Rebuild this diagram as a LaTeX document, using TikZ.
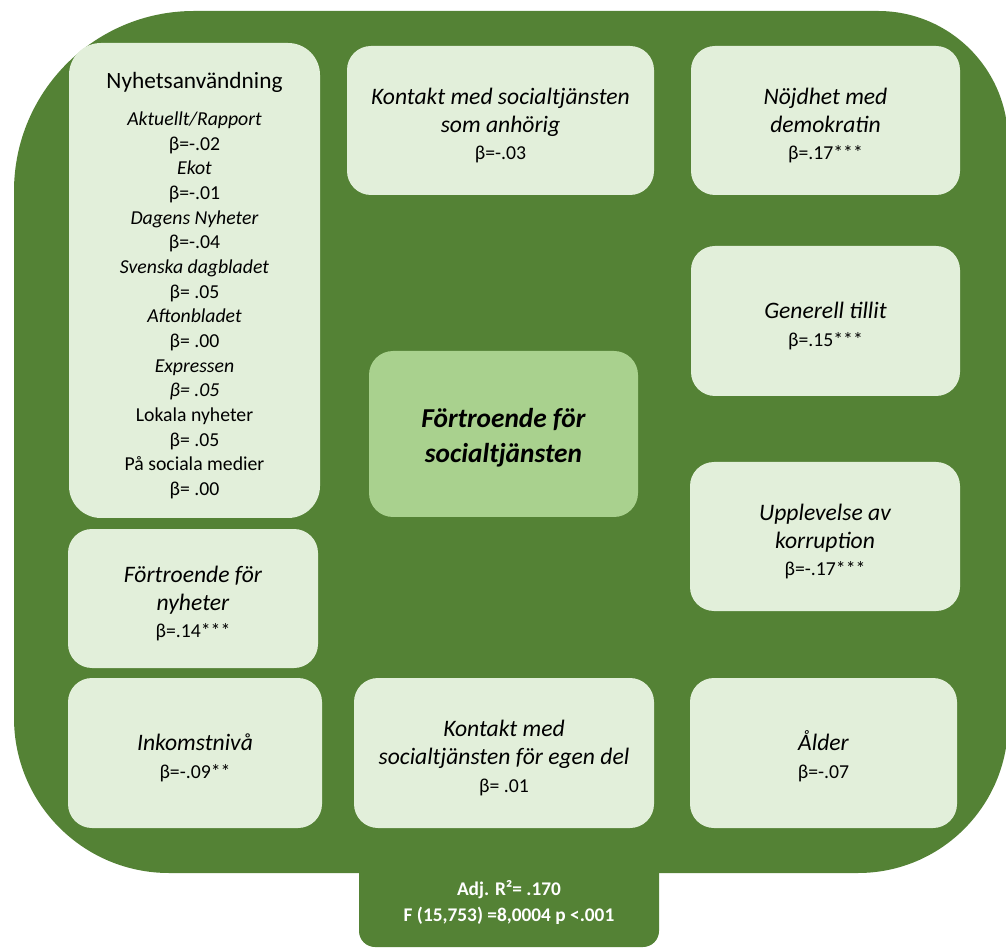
\documentclass[tikz,border=0pt]{standalone}
\usepackage{fontspec}
\setmainfont{Carlito}
\usepackage{tikz}
\usepackage{color}
\definecolor{darkgreen}{HTML}{548235}
\definecolor{lightgreen}{HTML}{E2EFDA}
\definecolor{midgreen}{HTML}{A9D18E}
\newcommand{\topline}{\rule{0pt}{20pt}}

\begin{document}
\begin{tikzpicture}[x=0.75pt,y=0.75pt,var node/.style={rectangle,rounded corners=18pt,fill=lightgreen,align=center,inner sep=2pt,font=\fontsize{17.7}{20.8}\selectfont\itshape}]
    \useasboundingbox (0,0) rectangle (1006,947);
    \fill[darkgreen] (14,229) -- (14,756) arc[start angle=180,end angle=90,radius=180] -- (878,936) arc[start angle=90,end angle=0,radius=130] -- (1008,224) arc[start angle=0,end angle=-90,radius=150] -- (169,74) arc[start angle=270,end angle=180,radius=155] -- cycle;
    \fill[darkgreen,rounded corners=12pt] (359,90) -- (359,0) -- (659,0) -- (659,90);
    \node[var node, rounded corners=24pt, minimum width=188.25pt, minimum height=356.25pt, font=\fontsize{14.8}{18.5}\selectfont] (A) at (194.5,666.5) {\topline{\fontsize{17.5}{22}\selectfont Nyhetsanvändning}\\[9pt]
        \textit{Aktuellt/Rapport}\\ β=-.02\\ \textit{Ekot}\\ β=-.01\\ \textit{Dagens Nyheter}\\ β=-.04\\ \textit{Svenska dagbladet}\\ β= .05\\ \textit{Aftonbladet}\\ β= .00\\ \textit{Expressen}\\ \textit{β= .05}\\ Lokala nyheter\\ β= .05\\ På sociala medier\\ β= .00};
    \node[var node, minimum width=230.25pt, minimum height=111.75pt] (B) at (500.5,826.5) {\topline Kontakt med socialtjänsten\\ som anhörig\\ {\upshape\fontsize{14.8}{16}\selectfont β=-.03}};
    \node[var node, minimum width=201.75pt, minimum height=111.75pt] (C) at (825.5,826.5) {\topline Nöjdhet med\\ demokratin\\ {\upshape\fontsize{14.8}{16}\selectfont β=.17***}};
    \node[var node, minimum width=201.75pt, minimum height=112.5pt] (D) at (825.5,626) {\topline Generell tillit\\ {\upshape\fontsize{14.8}{16}\selectfont β=.15***}};
    \node[var node, fill=midgreen, minimum width=201.75pt, minimum height=124.5pt, font=\fontsize{20.5}{26}\selectfont\bfseries\itshape] (E) at (503.5,513) {\topline Förtroende för\\ socialtjänsten};
    \node[var node, minimum width=202.5pt, minimum height=111.75pt] (F) at (825,410.5) {\topline Upplevelse av\\ korruption\\ {\upshape\fontsize{14.8}{16}\selectfont β=-.17***}};
    \node[var node, minimum width=187.5pt, minimum height=104.25pt] (G) at (193,348.5) {\topline Förtroende för\\ nyheter\\ {\upshape\fontsize{14.8}{16}\selectfont β=.14***}};
    \node[var node, minimum width=190.5pt, minimum height=112.5pt] (H) at (195,194) {\topline Inkomstnivå\\ {\upshape\fontsize{14.8}{16}\selectfont β=-.09**}};
    \node[var node, minimum width=225pt, minimum height=112.5pt] (I) at (504,194) {\topline Kontakt med\\ socialtjänsten för egen del\\ {\upshape\fontsize{14.8}{16}\selectfont β= .01}};
    \node[var node, minimum width=200.25pt, minimum height=112.5pt] (J) at (823.5,194) {\topline Ålder\\ {\upshape\fontsize{14.8}{16}\selectfont β=-.07}};
    \node[align=center, text=white, font=\fontsize{14.5}{19.5}\selectfont\bfseries] (K) at (509,45) {Adj. R²= .170\\ F (15,753) =8,0004 p <.001};
\end{tikzpicture}
\end{document}
